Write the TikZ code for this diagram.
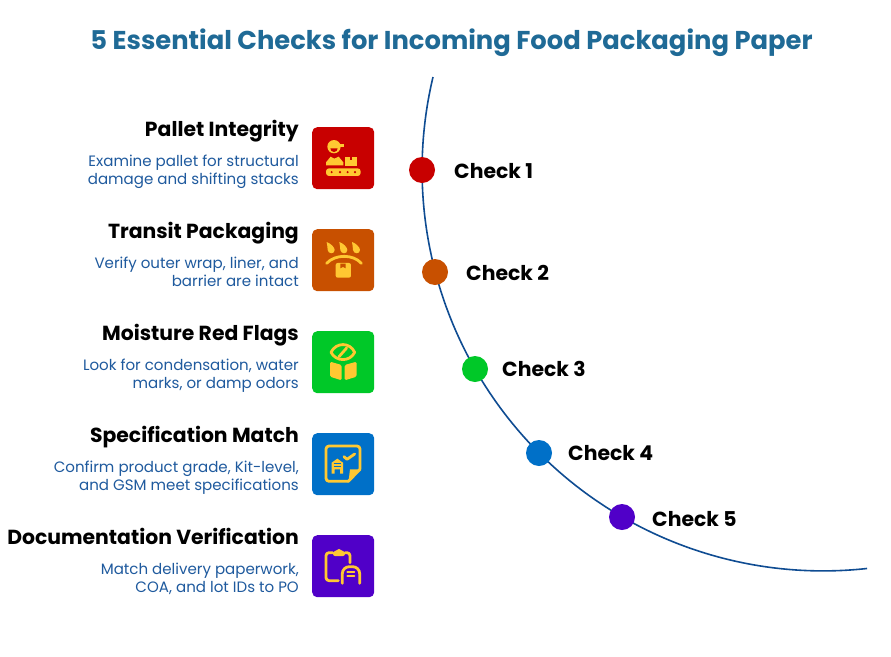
\documentclass[tikz,border=0pt]{standalone}
\usepackage{fontspec}
\setmainfont{Poppins}
\definecolor{titleblue}{HTML}{1F6A96}
\definecolor{descblue}{HTML}{1F5A9E}
\definecolor{curveblue}{HTML}{0F4C92}
\definecolor{iconyellow}{HTML}{FFC832}
\definecolor{cred}{HTML}{C80000}
\definecolor{corange}{HTML}{C85000}
\definecolor{cgreen}{HTML}{00C828}
\definecolor{cblue}{HTML}{0070C8}
\definecolor{cpurple}{HTML}{5000C8}
\tikzset{
  iconbox/.style={rounded corners=5pt,minimum width=62pt,minimum height=62pt,inner sep=0pt,anchor=north west},
  headtext/.style={font=\fontsize{20.35}{22}\selectfont\bfseries,text=black,anchor=base east,inner sep=0pt},
  desctext/.style={font=\fontsize{15.05}{18}\selectfont,text=descblue,anchor=base east,inner sep=0pt,align=right},
  checktext/.style={font=\fontsize{20.4}{22}\selectfont\bfseries,text=black,anchor=base west,inner sep=0pt},
  dot/.style={circle,minimum size=26pt,inner sep=0pt},
  iconline/.style={draw=iconyellow,line width=2.8pt,line cap=round,line join=round},
}
\begin{document}
\begin{tikzpicture}[x=1pt,y=-1pt]
\useasboundingbox (0,0) rectangle (891,656);
\fill[white] (0,0) rectangle (891,656);
\node[font=\fontsize{25.8}{28}\selectfont\bfseries,text=titleblue,inner sep=0pt,anchor=base] (title) at (451.5,49) {5 Essential Checks for Incoming Food Packaging Paper};
\coordinate (cstart) at (433,77);
\draw[curveblue,line width=1.6pt] (cstart) arc[start angle=193.4,end angle=83.7,radius=401];
\node[dot,fill=cred] (d1) at (422,170) {};
\node[dot,fill=corange] (d2) at (435,272) {};
\node[dot,fill=cgreen] (d3) at (475,369) {};
\node[dot,fill=cblue] (d4) at (539,453) {};
\node[dot,fill=cpurple] (d5) at (622,517) {};
\node[checktext] (c1) at (454,178) {Check 1};
\node[checktext] (c2) at (466,280) {Check 2};
\node[checktext] (c3) at (502,376) {Check 3};
\node[checktext] (c4) at (568,460) {Check 4};
\node[checktext] (c5) at (652,526) {Check 5};
\node[headtext] (h1) at (299,136) {Pallet Integrity};
\node[headtext] (h2) at (299,238) {Transit Packaging};
\node[headtext] (h3) at (299,340) {Moisture Red Flags};
\node[headtext] (h4) at (299,442) {Specification Match};
\node[headtext] (h5) at (299,544) {Documentation Verification};
\node[desctext] (t1a) at (299,166) {Examine pallet for structural};
\node[desctext] (t1b) at (299,184) {damage and shifting stacks};
\node[desctext] (t2a) at (299,268) {Verify outer wrap, liner, and};
\node[desctext] (t2b) at (299,286) {barrier are intact};
\node[desctext] (t3a) at (299,370) {Look for condensation, water};
\node[desctext] (t3b) at (299,388) {marks, or damp odors};
\node[desctext] (t4a) at (299,472) {Confirm product grade, Kit-level,};
\node[desctext] (t4b) at (299,490) {and GSM meet specifications};
\node[desctext] (t5a) at (299,574) {Match delivery paperwork,};
\node[desctext] (t5b) at (299,592) {COA, and lot IDs to PO};
\node[iconbox,fill=cred] (b1) at (312,127) {};
\node[iconbox,fill=corange] (b2) at (312,229) {};
\node[iconbox,fill=cgreen] (b3) at (312,331) {};
\node[iconbox,fill=cblue] (b4) at (312,433) {};
\node[iconbox,fill=cpurple] (b5) at (312,535) {};
% icon 1
\begin{scope}[shift={(300,115)},x=0.3333pt,y=-0.3333pt]
\fill[iconyellow] (102,95) circle[radius=20];
\fill[iconyellow] (104,86) rectangle (133,96);
\fill[cred] (91,100) arc[start angle=180,end angle=0,radius=11] -- cycle;
\fill[iconyellow] (78,151) -- (78,142) -- (92,125) -- (103,131) -- (116,125) -- (130,142) -- (130,151) -- cycle;
\fill[iconyellow] (135,126) rectangle (172,153);
\fill[cred] (149,126) rectangle (157,136);
\fill[iconyellow,rounded corners=3pt] (78,160) rectangle (182,183);
\foreach \hx in {95,120,143,165} \fill[cred] (\hx,171.5) circle[radius=3.5];
\end{scope}
% icon 2
\begin{scope}[shift={(300,218)},x=0.3333pt,y=-0.3333pt]
\foreach \dx in {0,38,76}{
  \fill[iconyellow,shift={(\dx,0)}] (80,72) .. controls (92,76) and (104,88) .. (104,96) .. controls (104,110) and (84,108) .. (83,96) .. controls (82,88) and (82,80) .. (80,72) -- cycle;
}
\draw[iconline] (80,136) .. controls (105,108) and (160,108) .. (184,136);
\fill[iconyellow,rounded corners=2pt] (107,135) rectangle (153,179);
\fill[corange] (121,137) -- (137,137) -- (137,151) -- (129,147) -- (121,151) -- cycle;
\end{scope}
% icon 3
\begin{scope}[shift={(300,320)},x=0.3333pt,y=-0.3333pt]
\draw[iconline] (93,97) .. controls (108,66) and (150,66) .. (164,97) .. controls (150,126) and (108,126) .. (93,97) -- cycle;
\draw[iconline] (117,110) -- (140,84);
\fill[iconyellow,rounded corners=1.5pt] (90,125) -- (125,135) -- (125,181) -- (90,170) -- cycle;
\fill[iconyellow,rounded corners=1.5pt] (170,125) -- (134,135) -- (134,181) -- (170,170) -- cycle;
\end{scope}
% icon 4
\begin{scope}[shift={(300,422)},x=0.3333pt,y=-0.3333pt]
\draw[iconline,rounded corners=3pt] (145,178) -- (78,178) -- (78,72) -- (180,72) -- (180,142);
\draw[iconline] (180,142) -- (145,178);
\fill[iconyellow] (180,142) -- (150,142) .. controls (148,155) and (148,165) .. (145,178) -- cycle;
\draw[iconline] (132,104) -- (141,112) -- (164,96);
\fill[iconyellow] (95,155) -- (95,122) -- (112,110) -- (129,122) -- (129,155) -- (120,155) -- (120,142) -- (104,142) -- (104,155) -- cycle;
\draw[cblue,line width=1pt] (101,124) -- (123,124) (101,133) -- (123,133);
\end{scope}
% icon 5
\begin{scope}[shift={(300,524)},x=0.3333pt,y=-0.3333pt]
\draw[iconline,rounded corners=3pt] (98,86) -- (78,86) -- (78,170) -- (115,170);
\draw[iconline,rounded corners=3pt] (135,86) -- (150,86) -- (150,116);
\fill[iconyellow,rounded corners=2pt] (99,96) -- (99,82) -- (109,82) -- (117,72) -- (125,82) -- (135,82) -- (135,96) -- cycle;
\draw[iconline,rounded corners=7pt] (127,178) -- (127,128) -- (179,128) -- (179,178);
\draw[iconline,line width=1.8pt] (142,143) -- (163,143) (142,157) -- (163,157);
\end{scope}
\end{tikzpicture}
\end{document}
